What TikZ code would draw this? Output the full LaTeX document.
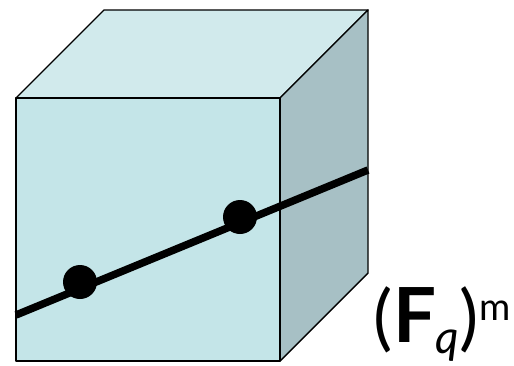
\documentclass[tikz,border=0pt]{standalone}
\usepackage{fontspec}
\setmainfont{Lato}
\begin{document}
\begin{tikzpicture}[x=1pt,y=-1pt,line join=round,
  face/.style={draw=black,line width=1.4pt},
  pointdot/.style={circle,fill=black,inner sep=0pt,minimum size=34pt}]
\useasboundingbox (0,0) rectangle (514,365);
\fill[white] (0,0) rectangle (514,365);
\coordinate (a) at (16,98);
\coordinate (b) at (280,98);
\coordinate (c) at (280,361);
\coordinate (d) at (16,361);
\coordinate (e) at (104,10);
\coordinate (f) at (368,10);
\coordinate (g) at (368,273);
\coordinate (l) at (16,315);
\coordinate (r) at (368,170);
\draw[face,fill={rgb,255:red,209;green,234;blue,236}] (a) -- (e) -- (f) -- (b) -- cycle;
\draw[face,fill={rgb,255:red,167;green,192;blue,197}] (b) -- (f) -- (g) -- (c) -- cycle;
\draw[face,fill={rgb,255:red,196;green,229;blue,232}] (a) -- (b) -- (c) -- (d) -- cycle;
\draw[line width=7.5pt] (l) -- (r);
\node[pointdot] (p1) at (80,282) {};
\node[pointdot] (p2) at (240,217) {};
\node[anchor=base west,inner sep=0pt,font=\fontsize{72}{72}\selectfont] (lab) at (373,342)
  {(\kern1pt\textbf{\fontsize{76}{76}\selectfont F}\kern-1pt\raisebox{-11pt}{\fontsize{46}{46}\selectfont\itshape q}\kern1pt)\raisebox{22pt}{\fontsize{38}{38}\selectfont m}};
\end{tikzpicture}
\end{document}
